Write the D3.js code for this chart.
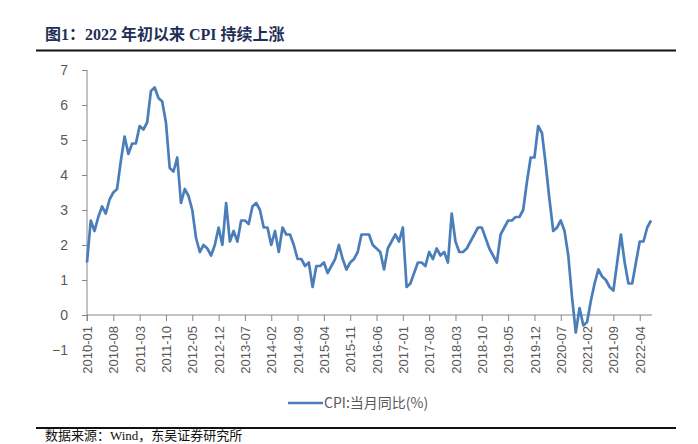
<!DOCTYPE html>
<html><head><meta charset="utf-8">
<script src="https://cdn.jsdelivr.net/npm/d3@7"></script>
<style>
html,body{margin:0;padding:0;background:#fff;}
svg{display:block;}
</style></head>
<body>
<script>
const startYear = 2010;
const cpiValues = [
  1.5,2.7,2.4,2.8,3.1,2.9,3.3,3.5,3.6,4.4,5.1,4.6,
  4.9,4.9,5.4,5.3,5.5,6.4,6.5,6.2,6.1,5.5,4.2,4.1,
  4.5,3.2,3.6,3.4,3.0,2.2,1.8,2.0,1.9,1.7,2.0,2.5,
  2.0,3.2,2.1,2.4,2.1,2.7,2.7,2.6,3.1,3.2,3.0,2.5,
  2.5,2.0,2.4,1.8,2.5,2.3,2.3,2.0,1.6,1.6,1.4,1.5,
  0.8,1.4,1.4,1.5,1.2,1.4,1.6,2.0,1.6,1.3,1.5,1.6,
  1.8,2.3,2.3,2.3,2.0,1.9,1.8,1.3,1.9,2.1,2.3,2.1,
  2.5,0.8,0.9,1.2,1.5,1.5,1.4,1.8,1.6,1.9,1.7,1.8,
  1.5,2.9,2.1,1.8,1.8,1.9,2.1,2.3,2.5,2.5,2.2,1.9,
  1.7,1.5,2.3,2.5,2.7,2.7,2.8,2.8,3.0,3.8,4.5,4.5,
  5.4,5.2,4.3,3.3,2.4,2.5,2.7,2.4,1.7,0.5,-0.5,0.2,
  -0.3,-0.2,0.4,0.9,1.3,1.1,1.0,0.8,0.7,1.5,2.3,1.5,
  0.9,0.9,1.5,2.1,2.1,2.5,2.7
];
const xTickLabels = ["2010-01","2010-08","2011-03","2011-10","2012-05","2012-12","2013-07","2014-02","2014-09","2015-04","2015-11","2016-06","2017-01","2017-08","2018-03","2018-10","2019-05","2019-12","2020-07","2021-02","2021-09","2022-04"];
const yTicks = [-1,0,1,2,3,4,5,6,7];
const titleText = "图1：2022 年初以来 CPI 持续上涨";
const legendText = "CPI:当月同比(%)";
const sourceText = "数据来源：Wind，东吴证券研究所";

const months = cpiValues.map((v,i)=>{
  const y = startYear + Math.floor(i/12), m = i%12+1;
  return y + "-" + (m<10?"0"+m:m);
});
const data = months.map((m,i)=>({m, v: cpiValues[i]}));

const W=698,H=444;
const svg = d3.select("body").append("svg").attr("width",W).attr("height",H);

const x = d3.scalePoint().domain(months).range([87,651]);
const y = d3.scaleLinear().domain([-1,7]).range([350,70]);

const gray="#868686", txt="#595959";
const tickFont = "'Liberation Sans', Arial, sans-serif";

// Title
svg.append("text").attr("x",45).attr("y",40)
  .attr("font-family","'Liberation Serif','Times New Roman','Noto Sans CJK SC',serif")
  .attr("font-weight","bold").attr("font-size",16).attr("fill","#1f2f57")
  .text(titleText);
svg.append("line").attr("x1",36).attr("x2",676).attr("y1",50.5).attr("y2",50.5)
  .attr("stroke","#111").attr("stroke-width",2);

// Y axis
const yAxis = svg.append("g").attr("transform","translate(87,0)")
  .call(d3.axisLeft(y).tickValues(yTicks).tickSize(5).tickPadding(14).tickFormat(d3.format("d")));
yAxis.select(".domain").remove();
yAxis.append("line").attr("x1",0).attr("x2",0).attr("y1",y(7)).attr("y2",y(0)+6).attr("stroke",gray).attr("stroke-width",1);
yAxis.selectAll(".tick line").attr("stroke",gray);
yAxis.selectAll(".tick text").attr("fill",txt).attr("font-size",14).attr("font-family",tickFont);

// X axis at y=0
const xAxis = svg.append("g").attr("transform",`translate(0,${y(0)})`)
  .call(d3.axisBottom(x).tickValues(xTickLabels).tickSize(6).tickSizeOuter(0));
xAxis.select(".domain").remove();
xAxis.append("line").attr("x1",87).attr("x2",652).attr("y1",0).attr("y2",0).attr("stroke",gray);
xAxis.selectAll(".tick line").attr("stroke",gray);
xAxis.selectAll(".tick text").attr("fill",txt).attr("font-size",13).attr("font-family",tickFont)
  .attr("text-anchor","end").attr("dy","0.35em").attr("x",0).attr("y",0)
  .attr("transform",`translate(0,${326-y(0)}) rotate(-90)`);

// Line
svg.append("path").datum(data)
  .attr("fill","none").attr("stroke","#4a7ebb").attr("stroke-width",2.7).attr("stroke-linejoin","round")
  .attr("d", d3.line().x(d=>x(d.m)).y(d=>y(d.v)));

// Legend
svg.append("line").attr("x1",288).attr("x2",323).attr("y1",403).attr("y2",403)
  .attr("stroke","#4a7ebb").attr("stroke-width",2.7);
svg.append("text").attr("x",324).attr("y",408).attr("font-size",14)
  .attr("font-family","'Noto Sans CJK SC','Liberation Sans',sans-serif").attr("fill",txt)
  .text(legendText);

// Footer
svg.append("line").attr("x1",36).attr("x2",676).attr("y1",428).attr("y2",428)
  .attr("stroke","#111").attr("stroke-width",2);
svg.append("text").attr("x",45).attr("y",440).attr("font-size",13)
  .attr("font-family","'Liberation Serif','Noto Sans CJK SC',serif").attr("fill","#111")
  .text(sourceText);
</script>
</body></html>
